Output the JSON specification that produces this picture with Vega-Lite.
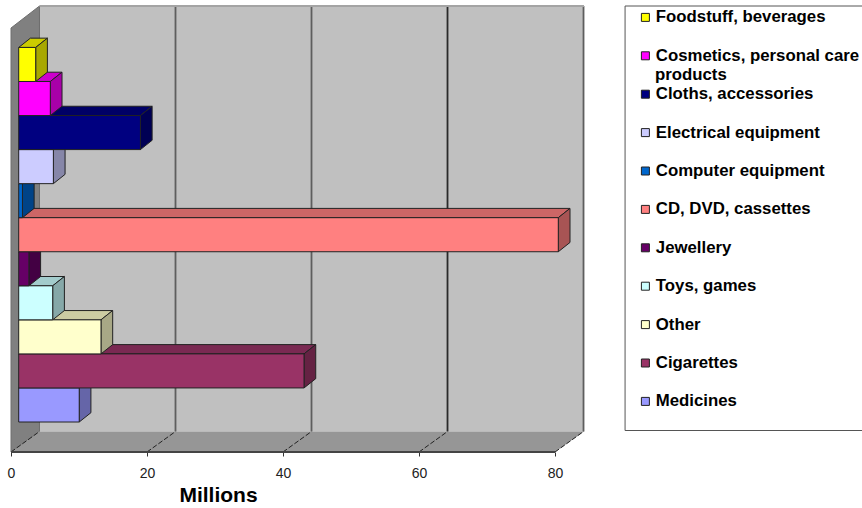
{
  "$schema": "https://vega.github.io/schema/vega-lite/v6.json",
  "width": 573,
  "height": 446,
  "autosize": {"type": "none"},
  "padding": {"left": 11, "top": 6, "right": 278, "bottom": 56},
  "background": "white",
  "config": {
    "view": {"stroke": null},
    "font": "Liberation Sans",
    "axisX": {"grid": false, "domain": false, "tickColor": "#333333", "tickSize": 4,
      "labelFontSize": 14, "labelColor": "#222222", "labelPadding": 10, "labelFont": "Liberation Sans", "labelFlush": false,
      "titleFontSize": 21, "titleFontWeight": "bold", "titleColor": "#000000",
      "titleX": 207, "titleY": 43, "titleAlign": "center", "titleBaseline": "middle"}
  },
  "datasets": {
    "sales": [
      {"category": "Medicines", "value": 8.9, "order": 0},
      {"category": "Cigarettes", "value": 41.96, "order": 1},
      {"category": "Other", "value": 12.1, "order": 2},
      {"category": "Toys, games", "value": 5.0, "order": 3},
      {"category": "Jewellery", "value": 1.5, "order": 4},
      {"category": "CD, DVD, cassettes", "value": 79.35, "order": 5},
      {"category": "Computer equipment", "value": 0.55, "order": 6},
      {"category": "Electrical equipment", "value": 5.1, "order": 7},
      {"category": "Cloths, accessories", "value": 17.9, "order": 8},
      {"category": "Cosmetics, personal care", "value": 4.65, "order": 9},
      {"category": "Foodstuff, beverages", "value": 2.5, "order": 10}
    ],
    "ticks": [{"tick": 0}, {"tick": 20}, {"tick": 40}, {"tick": 60}, {"tick": 80}]
  },
  "resolve": {"scale": {"fill": "independent"}},
  "layer": [
    {
      "data": {"values": [{"a": 1}]},
      "mark": {"type": "rect", "fill": "#C0C0C0"},
      "encoding": {
        "x": {"datum": 4.19, "type": "quantitative", "scale": {"domain": [0, 84.26], "nice": false}, "axis": {"values": [0, 20, 40, 60, 80], "title": "Millions"}},
        "x2": {"datum": 84.26},
        "y": {"datum": -0.279, "type": "quantitative", "scale": {"domain": [-0.881, 12.217], "nice": false, "zero": false}, "axis": null},
        "y2": {"datum": 12.217}
      }
    },
    {
      "data": {"values": [{"depth": 0, "top": 11.57, "bottom": -0.881}, {"depth": 4.19, "top": 12.217, "bottom": -0.279}]},
      "mark": {"type": "area", "orient": "vertical", "fill": "#808080", "stroke": "#6e6e6e", "strokeWidth": 1},
      "encoding": {
        "x": {"field": "depth", "type": "quantitative", "scale": {"domain": [0, 84.26], "nice": false}, "axis": {"values": [0, 20, 40, 60, 80], "title": "Millions"}},
        "y": {"field": "top", "type": "quantitative", "scale": {"domain": [-0.881, 12.217], "nice": false, "zero": false}, "axis": null},
        "y2": {"field": "bottom"}
      }
    },
    {
      "data": {"values": [{"level": -0.881, "from": 0, "to": 80}, {"level": -0.279, "from": 4.19, "to": 84.26}]},
      "mark": {"type": "area", "orient": "horizontal", "fill": "#969696"},
      "encoding": {
        "y": {"field": "level", "type": "quantitative", "scale": {"domain": [-0.881, 12.217], "nice": false, "zero": false}, "axis": null},
        "x": {"field": "from", "type": "quantitative", "scale": {"domain": [0, 84.26], "nice": false}, "axis": {"values": [0, 20, 40, 60, 80], "title": "Millions"}},
        "x2": {"field": "to"}
      }
    },
    {
      "data": {"name": "ticks"},
      "transform": [{"calculate": "datum.tick + 4.19", "as": "back"}, {"filter": "datum.tick > 0"}],
      "mark": {"type": "rule", "strokeWidth": 1.8},
      "encoding": {
        "x": {"field": "back", "type": "quantitative", "scale": {"domain": [0, 84.26], "nice": false}, "axis": {"values": [0, 20, 40, 60, 80], "title": "Millions"}},
        "y": {"datum": -0.279, "type": "quantitative", "scale": {"domain": [-0.881, 12.217], "nice": false, "zero": false}, "axis": null},
        "y2": {"datum": 12.217},
        "color": {"condition": {"test": "datum.tick == 60", "value": "#2a2a2a"}, "value": "#5e5e5e"}
      }
    },
    {
      "data": {"name": "ticks"},
      "transform": [{"calculate": "datum.tick + 4.19", "as": "back"}],
      "mark": {"type": "rule", "stroke": "#222222", "strokeWidth": 1, "strokeDash": [5, 2]},
      "encoding": {
        "x": {"field": "tick", "type": "quantitative", "scale": {"domain": [0, 84.26], "nice": false}, "axis": {"values": [0, 20, 40, 60, 80], "title": "Millions"}},
        "x2": {"field": "back"},
        "y": {"datum": -0.881, "type": "quantitative", "scale": {"domain": [-0.881, 12.217], "nice": false, "zero": false}, "axis": null},
        "y2": {"datum": -0.279}
      }
    },
    {
      "data": {"values": [{"a": 1}]},
      "mark": {"type": "rule", "stroke": "#444444", "strokeWidth": 2},
      "encoding": {
        "x": {"datum": 0, "type": "quantitative", "scale": {"domain": [0, 84.26], "nice": false}, "axis": {"values": [0, 20, 40, 60, 80], "title": "Millions"}},
        "x2": {"datum": 80},
        "y": {"datum": -0.881, "type": "quantitative", "scale": {"domain": [-0.881, 12.217], "nice": false, "zero": false}, "axis": null}
      }
    },
    {
      "data": {"values": [{"a": 1}]},
      "mark": {"type": "rule", "stroke": "#a4a4a4", "strokeWidth": 2},
      "encoding": {
        "x": {"datum": 4.19, "type": "quantitative", "scale": {"domain": [0, 84.26], "nice": false}, "axis": {"values": [0, 20, 40, 60, 80], "title": "Millions"}},
        "x2": {"datum": 84.26},
        "y": {"datum": 12.217, "type": "quantitative", "scale": {"domain": [-0.881, 12.217], "nice": false, "zero": false}, "axis": null}
      }
    },
    {
      "data": {"name": "sales"},
      "transform": [
        {"calculate": "1", "as": "near"},
        {"calculate": "1", "as": "far"},
        {"fold": ["near", "far"], "as": ["corner", "unused"]},
        {"calculate": "datum.corner == 'far' ? 1 : 0", "as": "d"},
        {"calculate": "datum.order + 1 + datum.d * 0.273", "as": "level"},
        {"calculate": "1.132 + datum.d * 1.72", "as": "from"},
        {"calculate": "1.132 + datum.value + datum.d * 1.72", "as": "to"}
      ],
      "mark": {"type": "area", "orient": "horizontal", "stroke": "#222222", "strokeWidth": 1},
      "encoding": {
        "y": {"field": "level", "type": "quantitative", "scale": {"domain": [-0.881, 12.217], "nice": false, "zero": false}, "axis": null},
        "x": {"field": "from", "type": "quantitative", "scale": {"domain": [0, 84.26], "nice": false}, "axis": {"values": [0, 20, 40, 60, 80], "title": "Millions"}},
        "x2": {"field": "to"},
        "detail": {"field": "category"},
        "fill": {"field": "category", "type": "nominal", "legend": null,
          "scale": {
            "domain": ["Foodstuff, beverages", "Cosmetics, personal care", "Cloths, accessories", "Electrical equipment", "Computer equipment", "CD, DVD, cassettes", "Jewellery", "Toys, games", "Other", "Cigarettes", "Medicines"],
            "range": ["#CCCC00", "#CC00CC", "#000066", "#A3A3CC", "#0052A3", "#CC6666", "#520052", "#A3CCCC", "#CCCCA3", "#7A2952", "#7A7ACC"]
          }}
      }
    },
    {
      "data": {"name": "sales"},
      "transform": [
        {"calculate": "1", "as": "near"},
        {"calculate": "1", "as": "far"},
        {"fold": ["near", "far"], "as": ["corner", "unused"]},
        {"calculate": "datum.corner == 'far' ? 1 : 0", "as": "d"},
        {"calculate": "1.132 + datum.value + datum.d * 1.72", "as": "edge"},
        {"calculate": "datum.order + 1 + datum.d * 0.273", "as": "upper"},
        {"calculate": "datum.order + datum.d * 0.273", "as": "lower"}
      ],
      "mark": {"type": "area", "orient": "vertical", "stroke": "#222222", "strokeWidth": 1},
      "encoding": {
        "x": {"field": "edge", "type": "quantitative", "scale": {"domain": [0, 84.26], "nice": false}, "axis": {"values": [0, 20, 40, 60, 80], "title": "Millions"}},
        "y": {"field": "upper", "type": "quantitative", "scale": {"domain": [-0.881, 12.217], "nice": false, "zero": false}, "axis": null},
        "y2": {"field": "lower"},
        "detail": {"field": "category"},
        "fill": {"field": "category", "type": "nominal", "legend": null,
          "scale": {
            "domain": ["Foodstuff, beverages", "Cosmetics, personal care", "Cloths, accessories", "Electrical equipment", "Computer equipment", "CD, DVD, cassettes", "Jewellery", "Toys, games", "Other", "Cigarettes", "Medicines"],
            "range": ["#A8A800", "#A800A8", "#000054", "#8686A8", "#004387", "#A85454", "#430043", "#86A8A8", "#A8A886", "#652243", "#6565A8"]
          }}
      }
    },
    {
      "data": {"name": "sales"},
      "transform": [{"calculate": "datum.order + 1", "as": "upper"}],
      "mark": {"type": "rect", "stroke": "#222222", "strokeWidth": 1, "xOffset": 7.7, "x2Offset": 7.7},
      "encoding": {
        "x": {"field": "value", "type": "quantitative", "scale": {"domain": [0, 84.26], "nice": false}, "axis": {"values": [0, 20, 40, 60, 80], "title": "Millions"}},
        "x2": {"datum": 0},
        "y": {"field": "order", "type": "quantitative", "scale": {"domain": [-0.881, 12.217], "nice": false, "zero": false}, "axis": null},
        "y2": {"field": "upper"},
        "fill": {"field": "category", "type": "nominal",
          "scale": {
            "domain": ["Foodstuff, beverages", "Cosmetics, personal care", "Cloths, accessories", "Electrical equipment", "Computer equipment", "CD, DVD, cassettes", "Jewellery", "Toys, games", "Other", "Cigarettes", "Medicines"],
            "range": ["#FFFF00", "#FF00FF", "#000080", "#CCCCFF", "#0066CC", "#FF8080", "#660066", "#CCFFFF", "#FFFFCC", "#993366", "#9999FF"]
          },
          "legend": {"orient": "none", "legendX": 626, "legendY": 3, "title": null, "padding": 0,
            "symbolType": "square", "symbolSize": 64, "symbolStrokeColor": "#222222", "symbolStrokeWidth": 1, "symbolOpacity": 1,
            "labelFontSize": 16.8, "labelFontWeight": "bold", "labelColor": "#000000", "labelFont": "Liberation Sans", "labelLimit": 300, "labelOffset": 2,
            "rowPadding": 20.4}
        }
      }
    },
    {
      "data": {"values": [{"a": 1}]},
      "mark": {"type": "rect", "fill": null, "stroke": "#555555", "strokeWidth": 1},
      "encoding": {
        "x": {"datum": 90.3, "type": "quantitative", "scale": {"domain": [0, 84.26], "nice": false}, "axis": {"values": [0, 20, 40, 60, 80], "title": "Millions"}},
        "x2": {"datum": 126},
        "y": {"datum": -0.25, "type": "quantitative", "scale": {"domain": [-0.881, 12.217], "nice": false, "zero": false}, "axis": null},
        "y2": {"datum": 12.217}
      }
    },
    {
      "data": {"values": [{"line": "products"}]},
      "mark": {"type": "text", "align": "left", "baseline": "middle", "fontSize": 16.8, "fontWeight": "bold", "color": "#000000"},
      "encoding": {
        "x": {"datum": 94.7, "type": "quantitative", "scale": {"domain": [0, 84.26], "nice": false}, "axis": {"values": [0, 20, 40, 60, 80], "title": "Millions"}},
        "y": {"datum": 10.2, "type": "quantitative", "scale": {"domain": [-0.881, 12.217], "nice": false, "zero": false}, "axis": null},
        "text": {"field": "line"}
      }
    }
  ]
}
